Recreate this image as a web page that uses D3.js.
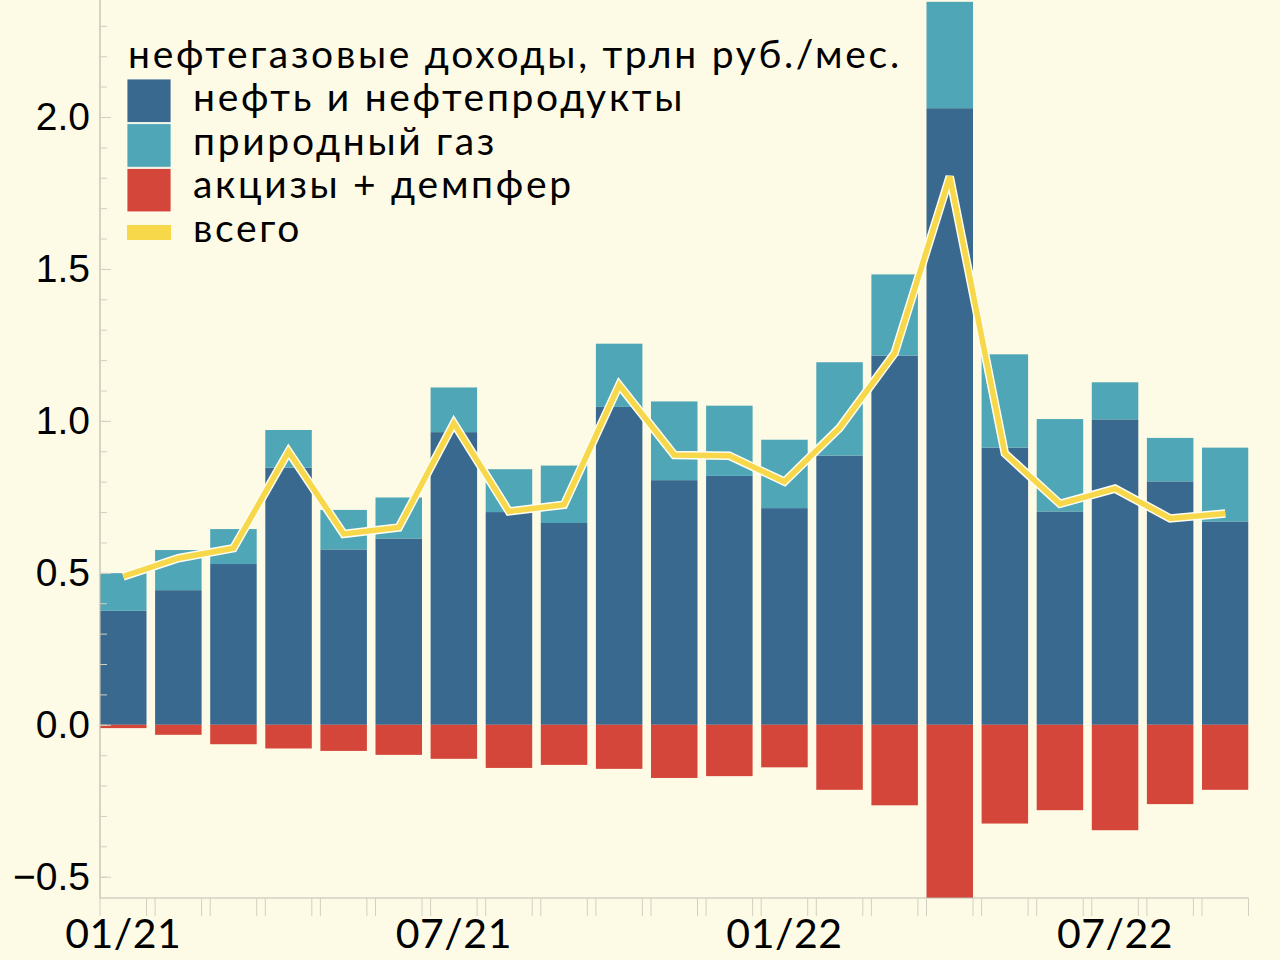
<!DOCTYPE html>
<html>
<head>
<meta charset="utf-8">
<script src="https://cdn.jsdelivr.net/npm/d3@7"></script>
<style>
    body { margin: 0; background: #fdfbe6; }
    svg { display: block; }
    .ylab text { font-family: "Liberation Sans", Arial, sans-serif; font-size: 39px; fill: #000; }
    .xlab { font-family: Lato, "Open Sans", sans-serif; font-size: 41px; fill: #000; letter-spacing: 0.5px; }
    .legend text { font-family: Lato, "Open Sans", sans-serif; font-size: 39px; fill: #000; letter-spacing: 2.7px; }
</style>
</head>
<body>
<div id="chart"></div>
<script>
// months, 01/21 .. 09/22
const months = ['01/21', '02/21', '03/21', '04/21', '05/21', '06/21', '07/21', '08/21', '09/21', '10/21', '11/21', '12/21',
    '01/22', '02/22', '03/22', '04/22', '05/22', '06/22', '07/22', '08/22', '09/22'];

// trln rub / month
const oil = [0.375, 0.443, 0.529, 0.846, 0.577, 0.613, 0.963, 0.700, 0.664, 1.046, 0.805, 0.819,
    0.713, 0.886, 1.215, 2.029, 0.912, 0.702, 1.005, 0.801, 0.669];
const gas = [0.124, 0.132, 0.115, 0.124, 0.130, 0.135, 0.147, 0.141, 0.189, 0.208, 0.259, 0.231,
    0.225, 0.307, 0.267, 0.350, 0.307, 0.304, 0.122, 0.143, 0.243];
const excise = [-0.011, -0.033, -0.064, -0.078, -0.086, -0.099, -0.112, -0.142, -0.132, -0.145, -0.175, -0.169,
    -0.140, -0.214, -0.265, -0.570, -0.325, -0.281, -0.347, -0.261, -0.214];
const total = [0.488, 0.548, 0.581, 0.899, 0.628, 0.649, 0.992, 0.702, 0.724, 1.118, 0.888, 0.885,
    0.800, 0.977, 1.223, 1.804, 0.893, 0.727, 0.777, 0.679, 0.695];

const labelMonths = ['01/21', '07/21', '01/22', '07/22'];
const yLabelTicks = [-0.5, 0, 0.5, 1.0, 1.5, 2.0];
const yMinorTicks = d3.range(-5, 24).map(d => d / 10);

const seriesKeys = ['oil', 'gas', 'excise'];
const seriesNames = ['нефть и нефтепродукты', 'природный газ', 'акцизы + демпфер', 'всего'];
const legendTitle = 'нефтегазовые доходы, трлн руб./мес.';

const colors = { oil: '#3a6990', gas: '#4fa6b7', excise: '#d4463a', total: '#f6d84a' };

const width = 1280, height = 960;
const plot = { left: 100, right: 1248.5, top: 0, bottom: 898 };

const svg = d3.select('#chart').append('svg')
    .attr('width', width)
    .attr('height', height);

svg.append('rect').attr('width', width).attr('height', height).attr('fill', '#fdfbe6');

const table = months.map((m, i) => ({ month: m, oil: oil[i], gas: gas[i], excise: excise[i], total: total[i] }));

const x = d3.scaleBand()
    .domain(months)
    .range([plot.left, plot.right])
    .paddingInner(0.156)
    .paddingOuter(0);

const y = d3.scaleLinear()
    .domain([-0.57, 2.385])
    .range([plot.bottom, plot.top]);

const stacked = d3.stack().keys(seriesKeys).offset(d3.stackOffsetDiverging)(table);

svg.append('clipPath').attr('id', 'clip')
    .append('rect')
    .attr('x', plot.left).attr('y', plot.top)
    .attr('width', plot.right - plot.left).attr('height', plot.bottom - plot.top);

const barsG = svg.append('g').attr('clip-path', 'url(#clip)');

barsG.selectAll('g.series')
    .data(stacked)
    .join('g')
    .attr('class', 'series')
    .attr('fill', d => colors[d.key])
    .selectAll('rect')
    .data(d => d)
    .join('rect')
    .attr('x', d => x(d.data.month))
    .attr('width', x.bandwidth())
    .attr('y', d => y(Math.max(d[0], d[1])))
    .attr('height', d => Math.abs(y(d[0]) - y(d[1])));

// axes lines
const axisColor = '#bdbbb0';
svg.append('line')
    .attr('x1', plot.left).attr('x2', plot.left)
    .attr('y1', plot.top).attr('y2', plot.bottom)
    .attr('stroke', axisColor).attr('stroke-width', 1.2);
svg.append('line')
    .attr('x1', plot.left).attr('x2', plot.right)
    .attr('y1', plot.bottom).attr('y2', plot.bottom)
    .attr('stroke', axisColor).attr('stroke-width', 1.2);

// y ticks (inward)
const yMinorAxis = d3.axisRight(y).tickValues(yMinorTicks).tickSize(7).tickFormat('');
const yMajorAxis = d3.axisRight(y).tickValues(yLabelTicks).tickSize(11).tickFormat('');
[yMinorAxis, yMajorAxis].forEach(ax => {
    const g = svg.append('g')
        .attr('transform', `translate(${plot.left},0)`)
        .call(ax);
    g.select('.domain').remove();
    g.selectAll('line').attr('stroke', '#d2d0c2');
});

const yLab = svg.append('g')
    .attr('class', 'ylab')
    .attr('transform', `translate(${plot.left},0)`)
    .call(d3.axisLeft(y).tickValues(yLabelTicks).tickSize(0).tickPadding(10).tickFormat(d3.format('.1f')));
yLab.select('.domain').remove();
yLab.selectAll('text').attr('font-size', null).attr('font-family', null).attr('fill', '#000');

// x ticks at both edges of each band
const xTickPos = [];
months.forEach(m => { xTickPos.push(x(m)); xTickPos.push(x(m) + x.bandwidth()); });
svg.append('g').selectAll('line')
    .data(xTickPos)
    .join('line')
    .attr('x1', d => d).attr('x2', d => d)
    .attr('y1', plot.bottom).attr('y2', plot.bottom + 18)
    .attr('stroke', '#d2d0c2')
    .attr('stroke-width', 1);

svg.append('g').selectAll('text')
    .data(labelMonths)
    .join('text')
    .attr('class', 'xlab')
    .attr('x', d => x(d) + x.bandwidth() / 2)
    .attr('y', 948)
    .attr('text-anchor', 'middle')
    .text(d => d);

// total line with light halo
const line = d3.line()
    .x(d => x(d.month) + x.bandwidth() / 2)
    .y(d => y(d.total));

svg.append('path')
    .datum(table)
    .attr('d', line)
    .attr('fill', 'none')
    .attr('stroke', '#fffdf0')
    .attr('stroke-width', 8.5)
    .attr('stroke-linejoin', 'miter');
svg.append('path')
    .datum(table)
    .attr('d', line)
    .attr('fill', 'none')
    .attr('stroke', colors.total)
    .attr('stroke-width', 5.5)
    .attr('stroke-linejoin', 'miter');

// legend
const legend = svg.append('g').attr('class', 'legend');
legend.append('text')
    .attr('x', 128).attr('y', 68)
    .text(legendTitle);

const swatchKeys = ['oil', 'gas', 'excise'];
swatchKeys.forEach((k, i) => {
    legend.append('rect')
        .attr('x', 127).attr('y', 79 + i * 44.7)
        .attr('width', 44).attr('height', 43.5)
        .attr('fill', colors[k])
        .attr('stroke', '#fffdf0').attr('stroke-width', 0.8);
});
legend.append('rect')
    .attr('x', 127).attr('y', 225)
    .attr('width', 44).attr('height', 15)
    .attr('fill', colors.total);

seriesNames.forEach((n, i) => {
    legend.append('text')
        .attr('x', 193).attr('y', 111 + i * 43.5)
        .text(n);
});
</script>
</body>
</html>
